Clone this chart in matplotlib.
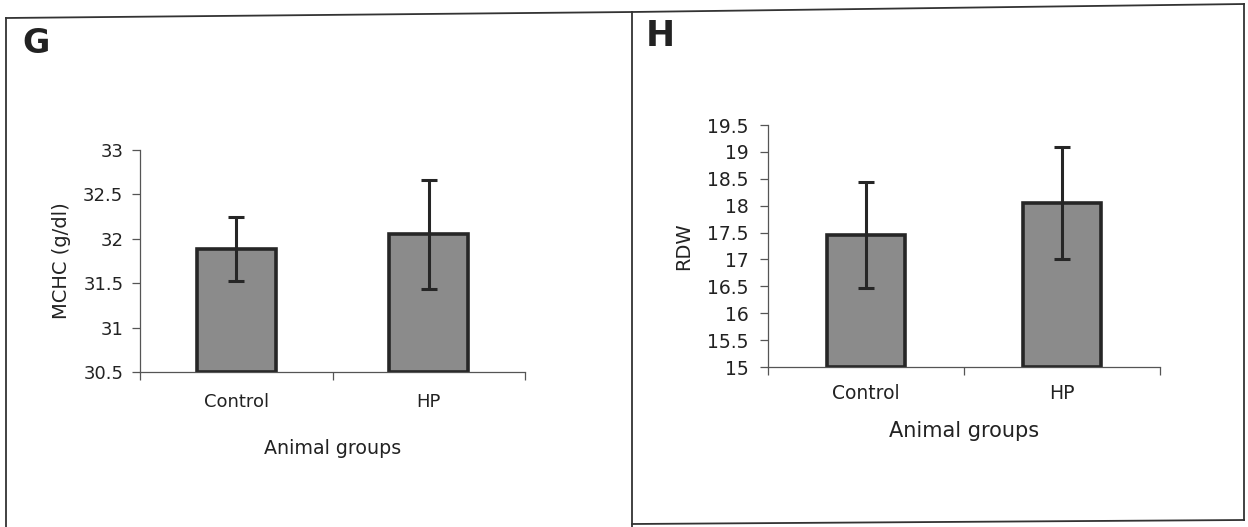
import matplotlib
matplotlib.use("Agg")
from matplotlib import pyplot as plt
from matplotlib.lines import Line2D
from matplotlib.ticker import MultipleLocator, FixedLocator
import numpy as np

plt.rcParams['font.family'] = ['DejaVu Sans']

groups = ["Control", "HP"]

mchc_mean = [31.88, 32.05]
mchc_err = [0.36, 0.61]

rdw_mean = [17.45, 18.05]
rdw_err = [0.99, 1.04]

W, H = 1248, 527
fig = plt.figure(figsize=(W / 100, H / 100), dpi=100)


def fx(px):
    return px / W


def fy(py):
    return 1 - py / H


def panel(rect, means, errs, ylim, step, ylabel, tick_size, xlab_size, bar_w,
          ylab_x, xlab_y, cat_pad, y_pad):
    ax = fig.add_axes(rect)
    x = np.arange(len(groups))
    ax.bar(x, [m - ylim[0] for m in means], bar_w, bottom=ylim[0],
           color="#8b8b8b", edgecolor="#262626", linewidth=2.6, zorder=2)
    ax.errorbar(x, means, yerr=errs, fmt="none", ecolor="#262626",
                elinewidth=2.2, capsize=5.5, capthick=2.2, zorder=3)
    ax.set_xlim(-0.5, len(groups) - 0.5)
    ax.set_ylim(*ylim)
    ax.yaxis.set_major_locator(MultipleLocator(step))
    ax.yaxis.set_major_formatter(plt.FuncFormatter(lambda v, p: f"{v:g}"))
    ax.set_xticks(x)
    ax.set_xticklabels(groups, fontsize=tick_size, color="#222222")
    ax.xaxis.set_minor_locator(FixedLocator([-0.5, 0.5, 1.5]))
    ax.tick_params(axis="x", which="major", length=0, pad=cat_pad)
    ax.tick_params(axis="x", which="minor", length=6, width=0.9, color="#555555", direction="out")
    ax.tick_params(axis="y", length=6, width=0.9, color="#555555", labelsize=tick_size,
                   labelcolor="#222222", pad=y_pad)
    for s in ("top", "right"):
        ax.spines[s].set_visible(False)
    for s in ("left", "bottom"):
        ax.spines[s].set_color("#555555")
        ax.spines[s].set_linewidth(0.9)
    ax.set_ylabel(ylabel, fontsize=14, color="#222222")
    ax.yaxis.set_label_coords(ylab_x, 0.5)
    ax.set_xlabel("Animal groups", fontsize=xlab_size, color="#222222", va="top")
    ax.xaxis.set_label_coords(0.5, xlab_y)
    return ax


panel([fx(140), fy(372), fx(525) - fx(140), fy(150) - fy(372)],
      mchc_mean, mchc_err, (30.5, 33), 0.5, "MCHC (g/dl)", 13, 13.7, 0.41,
      -0.18, -0.30, 15, 6)
panel([fx(768), fy(367), fx(1160) - fx(768), fy(125) - fy(367)],
      rdw_mean, rdw_err, (15, 19.5), 0.5, "RDW", 13.5, 15, 0.40,
      -0.19, -0.225, 12, 8)

# panel frames
frame_kw = dict(color="#333333", linewidth=1.3, transform=fig.transFigure)
fig.add_artist(Line2D([fx(6), fx(632)], [fy(18), fy(12)], **frame_kw))
fig.add_artist(Line2D([fx(6), fx(6)], [fy(18), fy(527)], **frame_kw))
fig.add_artist(Line2D([fx(632), fx(1244)], [fy(12), fy(4)], **frame_kw))
fig.add_artist(Line2D([fx(632), fx(632)], [fy(12), fy(527)], **frame_kw))
fig.add_artist(Line2D([fx(1244), fx(1244)], [fy(4), fy(520)], **frame_kw))
fig.add_artist(Line2D([fx(632), fx(1244)], [fy(524), fy(520)], **frame_kw))

fig.text(fx(22), fy(53), "G", fontsize=24, fontweight="bold", color="#222222")
fig.text(fx(646), fy(46), "H", fontsize=25, fontweight="bold", color="#222222")

fig.savefig("out.png", dpi=100)
